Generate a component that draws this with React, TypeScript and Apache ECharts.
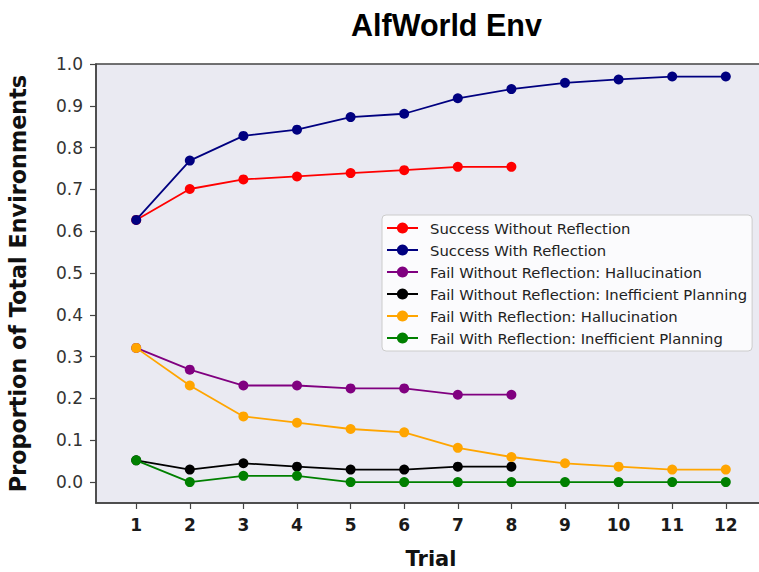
import React, { useEffect, useRef } from "react";
import * as echarts from "echarts";

const trials = [1, 2, 3, 4, 5, 6, 7, 8, 9, 10, 11, 12];
const yTicks = [0, 0.1, 0.2, 0.3, 0.4, 0.5, 0.6, 0.7, 0.8, 0.9, 1.0];

const seriesNames = [
  "Success Without Reflection",
  "Success With Reflection",
  "Fail Without Reflection: Hallucination",
  "Fail Without Reflection: Inefficient Planning",
  "Fail With Reflection: Hallucination",
  "Fail With Reflection: Inefficient Planning",
];
const seriesColors = ["#ff0000", "#000080", "#800080", "#000000", "#ffa500", "#008000"];

const successWithoutReflection = [0.627, 0.701, 0.724, 0.731, 0.739, 0.746, 0.754, 0.754];
const successWithReflection = [0.627, 0.769, 0.828, 0.843, 0.873, 0.881, 0.918, 0.94, 0.955, 0.963, 0.97, 0.97];
const failWithoutReflectionHallucination = [0.321, 0.269, 0.231, 0.231, 0.224, 0.224, 0.209, 0.209];
const failWithoutReflectionPlanning = [0.052, 0.03, 0.045, 0.037, 0.03, 0.03, 0.037, 0.037];
const failWithReflectionHallucination = [0.321, 0.231, 0.157, 0.142, 0.127, 0.119, 0.082, 0.06, 0.045, 0.037, 0.03, 0.03];
const failWithReflectionPlanning = [0.052, 0, 0.015, 0.015, 0, 0, 0, 0, 0, 0, 0, 0];

const seriesValues = [
  successWithoutReflection,
  successWithReflection,
  failWithoutReflectionHallucination,
  failWithoutReflectionPlanning,
  failWithReflectionHallucination,
  failWithReflectionPlanning,
];

export default function App() {
  const ref = useRef<HTMLDivElement>(null);
  useEffect(() => {
    if (!ref.current) return;
    const chart = echarts.init(ref.current, undefined, { renderer: "svg" });
    const option: any = {
      animation: false,
      backgroundColor: "#ffffff",
      title: {
        text: "AlfWorld Env",
        left: 346,
        top: 4,
        textStyle: {
          fontFamily: "Liberation Sans",
          fontWeight: "bold",
          fontSize: 30.5,
          color: "#000000",
        },
      },
      grid: {
        left: 96,
        right: -7,
        top: 64,
        bottom: 69,
        outerBoundsMode: "none",
        containLabel: false,
        show: true,
        backgroundColor: "#EAEAF2",
        borderColor: "#444444",
        borderWidth: 1.5,
      },
      xAxis: {
        type: "value",
        min: 0.25,
        max: 12.75,
        name: "Trial",
        nameLocation: "middle",
        nameGap: 45,
        nameTextStyle: {
          fontFamily: "DejaVu Sans",
          fontWeight: "bold",
          fontSize: 21,
          lineHeight: 22,
          color: "#111111",
        },
        axisLine: { show: true, onZero: false, lineStyle: { color: "#444444", width: 1.5 } },
        axisTick: {
          show: true,
          length: 6,
          customValues: trials,
          lineStyle: { color: "#444444", width: 1.2 },
        },
        axisLabel: {
          customValues: trials,
          margin: 13,
          fontFamily: "DejaVu Sans",
          fontWeight: "bold",
          fontSize: 17,
          color: "#1a1a1a",
          formatter: (v: number) => String(v),
        },
        splitLine: { show: false },
      },
      yAxis: {
        type: "value",
        min: -0.05,
        max: 1.0,
        name: "Proportion of Total Environments",
        nameLocation: "middle",
        nameGap: 67,
        nameTextStyle: {
          fontFamily: "DejaVu Sans",
          fontWeight: "bold",
          fontSize: 22.3,
          color: "#111111",
        },
        axisLine: { show: true, onZero: false, lineStyle: { color: "#444444", width: 1.5 } },
        axisTick: {
          show: true,
          length: 6,
          customValues: yTicks,
          lineStyle: { color: "#444444", width: 1.2 },
        },
        axisLabel: {
          customValues: yTicks,
          margin: 13,
          fontFamily: "DejaVu Sans",
          fontSize: 17,
          color: "#333333",
          formatter: (v: number) => v.toFixed(1),
        },
        splitLine: { show: false },
      },
      legend: {
        orient: "vertical",
        left: 382,
        top: 215,
        padding: [5, 5, 5, 4],
        itemWidth: 31,
        itemHeight: 14,
        itemGap: 6,
        backgroundColor: "rgba(255,255,255,0.8)",
        borderColor: "#cccccc",
        borderWidth: 1,
        borderRadius: 4,
        data: seriesNames,
        textStyle: {
          fontFamily: "DejaVu Sans",
          fontSize: 14.8,
          color: "#222222",
          lineHeight: 16,
          padding: [0, 0, 0, 7],
        },
      },
      series: seriesNames.map((name, k) => ({
        name,
        type: "line",
        data: seriesValues[k].map((v, i) => [trials[i], v]),
        symbol: "circle",
        symbolSize: 10,
        showSymbol: true,
        color: seriesColors[k],
        lineStyle: { color: seriesColors[k], width: 1.8 },
        itemStyle: { color: seriesColors[k] },
        z: 2 + k,
      })),
    };
    chart.setOption(option);
    return () => chart.dispose();
  }, []);
  return (
    <div
      ref={ref}
      style={{ position: "fixed", left: 0, top: 0, width: 759, height: 572 }}
    />
  );
}
